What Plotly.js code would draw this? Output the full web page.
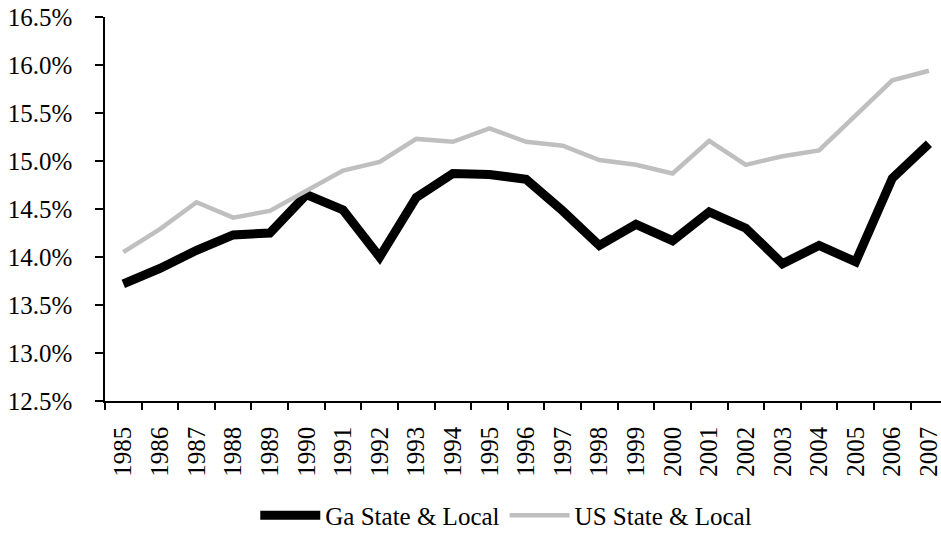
<!DOCTYPE html>
<html>
<head>
<meta charset="utf-8">
<script src="https://cdn.plot.ly/plotly-3.0.1.min.js"></script>
<style>html,body{margin:0;padding:0;background:#fff;}#chart{width:941px;height:539px;}</style>
</head>
<body>
<div id="chart"></div>
<script>
const years = ["1985","1986","1987","1988","1989","1990","1991","1992","1993","1994","1995","1996","1997","1998","1999","2000","2001","2002","2003","2004","2005","2006","2007"];
const gaStateLocal = [13.72,13.88,14.07,14.23,14.25,14.65,14.49,14.00,14.62,14.87,14.86,14.81,14.48,14.12,14.34,14.17,14.47,14.30,13.93,14.12,13.95,14.82,15.18];
const usStateLocal = [14.05,14.29,14.57,14.41,14.48,14.69,14.90,14.99,15.23,15.20,15.34,15.20,15.16,15.01,14.96,14.87,15.21,14.96,15.05,15.11,15.47,15.84,15.94];
const yTicks = [12.5,13.0,13.5,14.0,14.5,15.0,15.5,16.0,16.5];
const yTickText = ["12.5%","13.0%","13.5%","14.0%","14.5%","15.0%","15.5%","16.0%","16.5%"];

const FAMILY = 'Liberation Serif';

const traces = [
  {x: years, y: gaStateLocal, type: 'scatter', mode: 'lines', name: 'Ga State & Local',
   line: {color: '#000000', width: 9}},
  {x: years, y: usStateLocal, type: 'scatter', mode: 'lines', name: 'US State & Local',
   line: {color: '#bfbfbf', width: 4.5}}
];

const layout = {
  width: 941, height: 539,
  margin: {l: 105, r: 0, t: 17, b: 133, pad: 0},
  paper_bgcolor: '#fff', plot_bgcolor: '#fff',
  font: {family: FAMILY, size: 25, color: '#000'},
  showlegend: true,
  legend: {orientation: 'h', x: 0.48, xanchor: 'center', y: -0.298, yanchor: 'middle',
           font: {family: FAMILY, size: 25, color: '#000'}, itemwidth: 60, bgcolor: 'rgba(0,0,0,0)'},
  xaxis: {
    type: 'category', range: [-0.5, 22.33], tickson: 'boundaries',
    ticks: 'outside', ticklen: 7, tickcolor: '#000', tickwidth: 1.5,
    showline: true, linecolor: '#000', linewidth: 1.5,
    showgrid: false, zeroline: false, tickangle: -90,
    ticklabelstandoff: 14,
    tickfont: {family: FAMILY, size: 25, color: '#000'}
  },
  yaxis: {
    range: [12.5, 16.5], tickvals: yTicks, ticktext: yTickText,
    ticks: 'outside', ticklen: 8, tickcolor: '#000', tickwidth: 1.5,
    showline: true, linecolor: '#000', linewidth: 1.5,
    showgrid: false, zeroline: false,
    ticklabelstandoff: 18,
    tickfont: {family: FAMILY, size: 25, color: '#000'}
  }
};

Plotly.newPlot('chart', traces, layout, {displayModeBar: false}).then(function(gd){
  const redo = function(){ return Plotly.relayout(gd, {'font.size': 25}); };
  if (document.fonts && document.fonts.ready) { document.fonts.ready.then(redo); } else { redo(); }
});
</script>
</body>
</html>
